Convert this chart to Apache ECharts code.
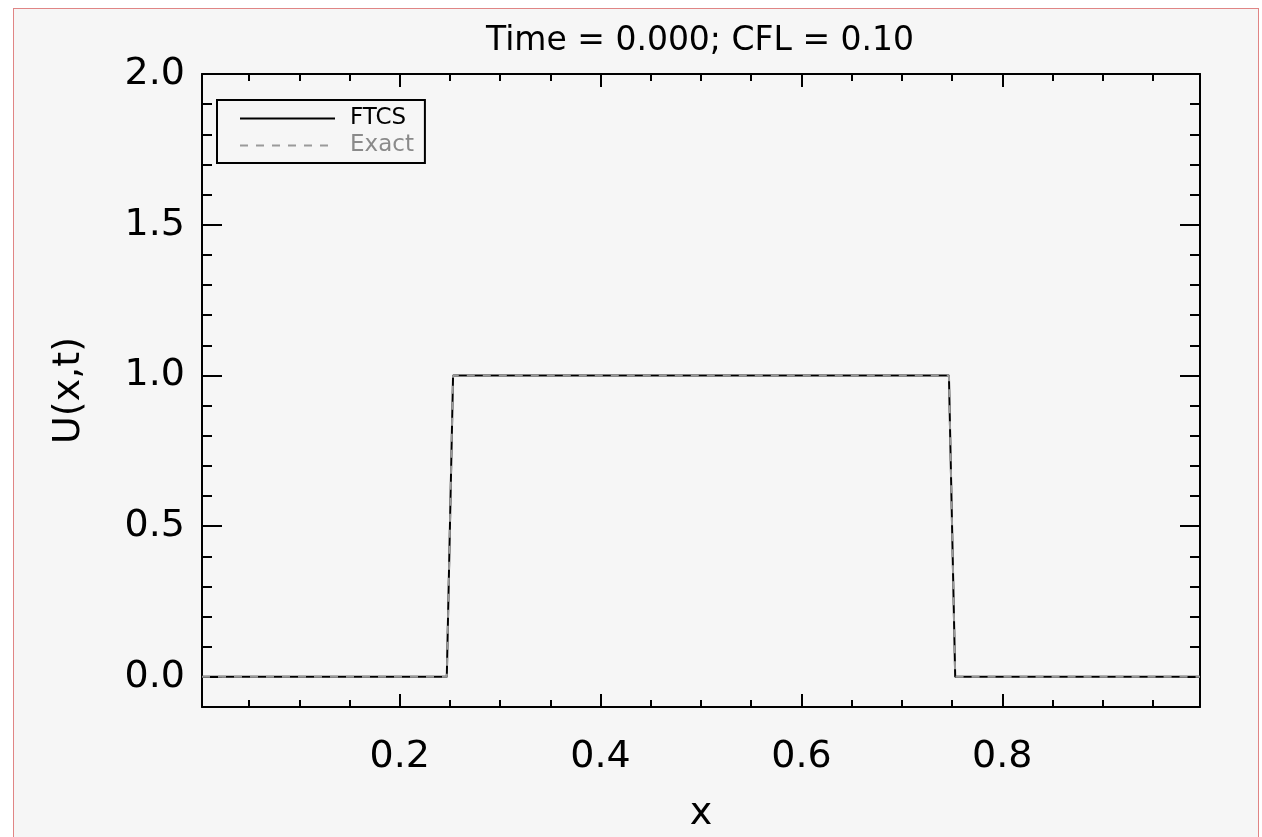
<!DOCTYPE html>
<html>
<head>
<meta charset="utf-8">
<title>FTCS</title>
<script src="https://cdn.jsdelivr.net/npm/echarts@6/dist/echarts.min.js"></script>
<style>
  html, body { margin: 0; padding: 0; background: #ffffff; }
  #frame {
    position: absolute; left: 13px; top: 8px; width: 1246px; height: 840px;
    border: 1.5px solid #e08585; background: #f6f6f6; box-sizing: border-box;
  }
  #chart { position: absolute; left: 0; top: 0; width: 1262px; height: 837px; }
</style>
</head>
<body>
<div id="frame"></div>
<div id="chart"></div>
<script>
// grid points where the profile changes (dx = 1/160, cell centres)
const xs = [0.003125, 0.246875, 0.253125, 0.746875, 0.753125, 0.996875];
const ftcs = [0, 0, 1, 1, 0, 0];
const exact = [0, 0, 1, 1, 0, 0];

// tick values
const xMajorTicks = [0.2, 0.4, 0.6, 0.8];
const xMinorTicks = [0.05, 0.1, 0.15, 0.25, 0.3, 0.35, 0.45, 0.5, 0.55, 0.65, 0.7, 0.75, 0.85, 0.9, 0.95];
const yMajorTicks = [0, 0.5, 1.0, 1.5, 2.0];
const yMinorTicks = [0.1, 0.2, 0.3, 0.4, 0.6, 0.7, 0.8, 0.9, 1.1, 1.2, 1.3, 1.4, 1.6, 1.7, 1.8, 1.9];

const xMin = 0.003125, xMax = 0.996875;
const yMin = -0.1, yMax = 2.0;

const titleText = 'Time = 0.000; CFL = 0.10';
const font = 'DejaVu Sans';

const chart = echarts.init(document.getElementById('chart'));

const gridBox = { left: 202, right: 62, top: 74, bottom: 130, outerBoundsMode: 'none' };
const black = { color: '#000', width: 2 };

// axis helpers: main axes carry the line + major ticks, the second grid only minor ticks
function xAx(gridIndex, position, ticks, len, withLabel, withLine) {
  return {
    type: 'value', gridIndex: gridIndex, position: position,
    min: xMin, max: xMax,
    axisLine: { show: withLine, onZero: false, lineStyle: black },
    axisTick: { show: true, inside: true, length: len, customValues: ticks, lineStyle: black },
    axisLabel: {
      show: withLabel, customValues: ticks, margin: 31,
      fontFamily: font, fontSize: 38, color: '#000',
      formatter: v => v.toFixed(1)
    },
    splitLine: { show: false }
  };
}
function yAx(gridIndex, position, ticks, len, withLabel, withLine) {
  return {
    type: 'value', gridIndex: gridIndex, position: position,
    min: yMin, max: yMax,
    axisLine: { show: withLine, onZero: false, lineStyle: black },
    axisTick: { show: true, inside: true, length: len, customValues: ticks, lineStyle: black },
    axisLabel: {
      show: withLabel, customValues: ticks, margin: 17,
      fontFamily: font, fontSize: 38, color: '#000',
      formatter: v => v.toFixed(1)
    },
    splitLine: { show: false }
  };
}

const xBottom = xAx(0, 'bottom', xMajorTicks, 13, true, true);
xBottom.name = 'x';
xBottom.nameLocation = 'middle';
xBottom.nameGap = 88;
xBottom.nameTextStyle = { fontFamily: font, fontSize: 38, color: '#000' };

const yLeft = yAx(0, 'left', yMajorTicks, 20, true, true);
yLeft.name = 'U(x,t)';
yLeft.nameLocation = 'middle';
yLeft.nameGap = 114;
yLeft.nameTextStyle = { fontFamily: font, fontSize: 38, color: '#000' };

const option = {
  animation: false,
  backgroundColor: 'transparent',
  title: {
    text: titleText,
    left: 700, top: 25, padding: 0,
    textAlign: 'center',
    textStyle: { fontFamily: font, fontSize: 33, fontWeight: 'normal', color: '#000' }
  },
  legend: {
    orient: 'vertical',
    left: 217, top: 100,
    padding: [7, 11, 6, 22],
    borderColor: '#000', borderWidth: 2,
    itemWidth: 95, itemHeight: 14, itemGap: 4,
    itemStyle: { opacity: 0 },
    lineStyle: { width: 2 },
    textStyle: { fontFamily: font, fontSize: 23, padding: [0, 0, 0, 10] },
    data: [
      { name: 'FTCS', textStyle: { color: '#000' } },
      { name: 'Exact', textStyle: { color: '#8a8a8a' } }
    ]
  },
  grid: [Object.assign({}, gridBox), Object.assign({}, gridBox)],
  xAxis: [
    xBottom,
    xAx(0, 'top', xMajorTicks, 13, false, true),
    xAx(1, 'bottom', xMinorTicks, 7, false, false),
    xAx(1, 'top', xMinorTicks, 7, false, false)
  ],
  yAxis: [
    yLeft,
    yAx(0, 'right', yMajorTicks, 20, false, true),
    yAx(1, 'left', yMinorTicks, 10, false, false),
    yAx(1, 'right', yMinorTicks, 10, false, false)
  ],
  series: [
    {
      name: 'FTCS', type: 'line', xAxisIndex: 0, yAxisIndex: 0,
      symbol: 'none',
      lineStyle: { color: '#000', width: 2 },
      itemStyle: { color: '#000' },
      data: xs.map((x, i) => [x, ftcs[i]])
    },
    {
      name: 'Exact', type: 'line', xAxisIndex: 0, yAxisIndex: 0,
      symbol: 'none',
      lineStyle: { color: '#9a9a9a', width: 2, type: [8, 8] },
      itemStyle: { color: '#9a9a9a' },
      data: xs.map((x, i) => [x, exact[i]])
    }
  ]
};

chart.setOption(option);
window.addEventListener('resize', function () {
  chart.resize();
});
</script>
</body>
</html>
